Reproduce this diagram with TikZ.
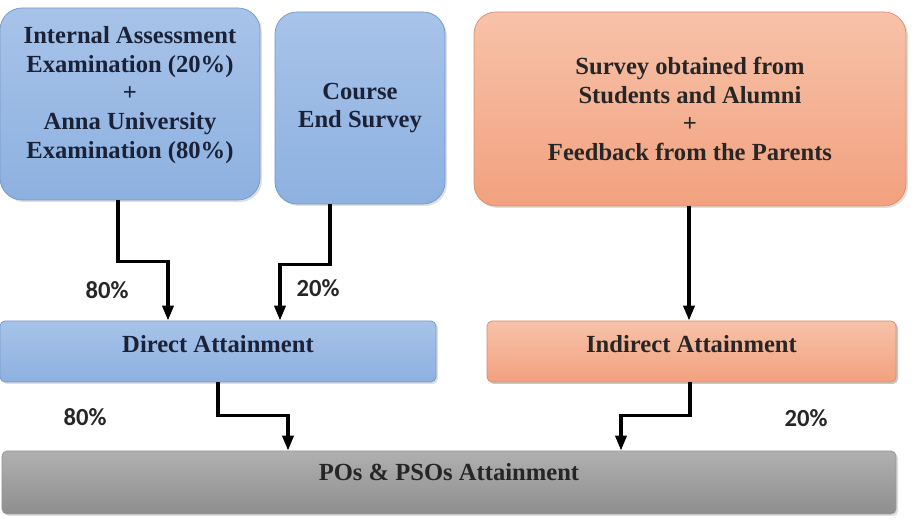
\documentclass[tikz,border=0pt]{standalone}
\usepackage{fontspec}
\setmainfont{Liberation Serif}
\newfontfamily\pctfont{Carlito}
\usepackage{tikz}
\usetikzlibrary{arrows.meta,shadows}
\definecolor{boxblue}{HTML}{A7C3E9}
\definecolor{boxbluedark}{HTML}{8DB1E0}
\definecolor{edgeblue}{HTML}{7497C6}
\definecolor{boxsalmon}{HTML}{F7C2A9}
\definecolor{boxsalmondark}{HTML}{F2A17E}
\definecolor{edgesalmon}{HTML}{DB8D6B}
\definecolor{bargray}{HTML}{B0B0B0}
\definecolor{bargraydark}{HTML}{8E8E8E}
\definecolor{navytext}{HTML}{1B2238}

\begin{document}
\begin{tikzpicture}[
    srcbox/.style={draw=edgeblue, rounded corners=0.44cm, top color=boxblue, bottom color=boxbluedark,
        align=center, font=\bfseries\fontsize{14}{16.4}\selectfont, text=navytext, inner sep=0pt,
        drop shadow={opacity=0.25, shadow xshift=0.04cm, shadow yshift=-0.04cm}},
    salbox/.style={srcbox, draw=edgesalmon, top color=boxsalmon, bottom color=boxsalmondark, text=black!85},
    attbox/.style={srcbox, rounded corners=0.1cm, text depth=0.3cm},
    flow/.style={line width=2pt, -{Triangle[width=0.22cm,length=0.3cm]}},
    pct/.style={font=\pctfont\bfseries\fontsize{14}{16}\selectfont, text=black!85}
]
    \useasboundingbox (0,0) rectangle (18.32,10.52);

    % Sources
    \node[srcbox, minimum width=5.2cm, minimum height=3.84cm] (ia) at (2.6,8.44)
        {Internal Assessment\\Examination (20\%)\\+\\Anna University\\Examination (80\%)\\[-0.11cm]};
    \node[srcbox, minimum width=3.4cm, minimum height=3.84cm] (ces) at (7.2,8.36)
        {Course\\End Survey};
    \node[salbox, minimum width=8.64cm, minimum height=3.88cm] (sv) at (13.8,8.34)
        {Survey obtained from\\Students and Alumni\\+\\Feedback from the Parents};

    % Attainment levels
    \node[attbox, minimum width=8.72cm, minimum height=1.22cm] (direct) at (4.36,3.49) {Direct Attainment};
    \node[attbox, salbox, rounded corners=0.1cm, minimum width=8.18cm, minimum height=1.22cm] (indirect) at (13.83,3.49) {Indirect Attainment};
    \node[attbox, draw=gray!80, top color=bargray, bottom color=bargraydark, text=black!85, text depth=0.43cm,
        minimum width=17.88cm, minimum height=1.26cm] (po) at (8.98,0.87) {POs \& PSOs Attainment};

    % Flows
    \draw[flow] ([xshift=-0.24cm]ia.south) -- ++(0,-1.22) -| ([xshift=-1cm]direct.north);
    \draw[flow] ([xshift=-0.6cm]ces.south) -- ++(0,-1.2) -| ([xshift=1.24cm]direct.north);
    \draw[flow] ([xshift=-0.02cm]sv.south) -- ([xshift=-0.05cm]indirect.north);
    \draw[flow] (direct.south) -- ++(0,-0.66) -| ([xshift=-3.22cm]po.north);
    \draw[flow] ([xshift=-0.03cm]indirect.south) -- ++(0,-0.66) -| ([xshift=3.44cm]po.north);

    % Weights
    \node[pct] (wia) at (2.14,4.72) {80\%};
    \node[pct] (wces) at (6.36,4.76) {20\%};
    \node[pct] (wdir) at (1.7,2.18) {80\%};
    \node[pct] (wind) at (16.12,2.16) {20\%};
\end{tikzpicture}
\end{document}
